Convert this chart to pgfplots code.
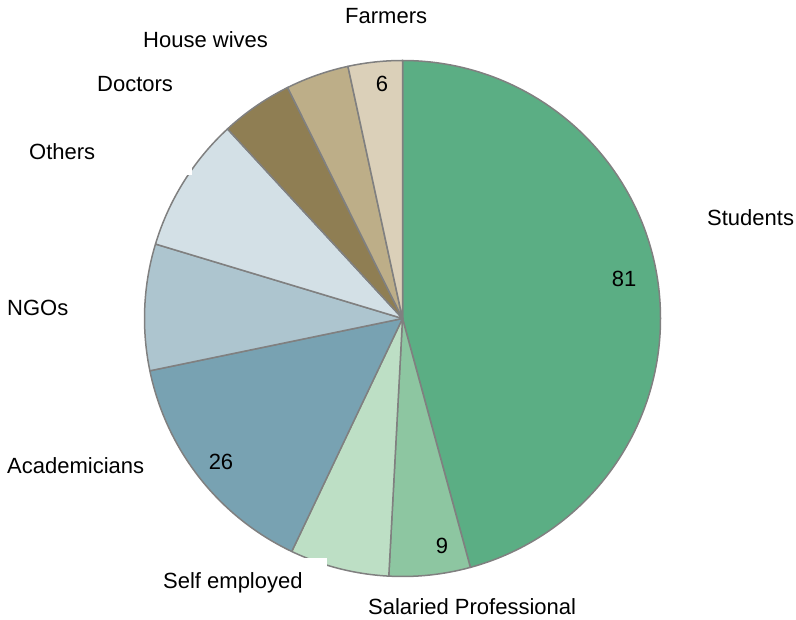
\documentclass[border=0pt]{standalone}
\usepackage{pgfplots}
\usepackage{pgfplotstable}
\usepackage{fontspec}
\pgfplotsset{compat=1.18}
\setmainfont{Liberation Sans}

% slice colours, clockwise from 12 o'clock
\definecolor{slice0}{HTML}{5BAE84}
\definecolor{slice1}{HTML}{8DC6A1}
\definecolor{slice2}{HTML}{BDDFC5}
\definecolor{slice3}{HTML}{78A2B2}
\definecolor{slice4}{HTML}{ADC5CF}
\definecolor{slice5}{HTML}{D3E0E6}
\definecolor{slice6}{HTML}{8F7E53}
\definecolor{slice7}{HTML}{BDAE88}
\definecolor{slice8}{HTML}{DBD0B9}
\definecolor{edgegray}{HTML}{808080}

\pgfplotstableread[col sep=comma]{
label,value
Students,81
Salaried Professional,9
Self employed,11
Academicians,26
NGOs,14
Others,15
Doctors,8
House wives,7
Farmers,6
}\piedata

\newcommand\cx{402.5}
\newcommand\cy{318.5}
\newcommand\R{258}

\tikzset{lbl/.style={font=\fontsize{22}{26}\selectfont, inner sep=0pt}}

\begin{document}
\begin{tikzpicture}
\begin{axis}[
    scale only axis,
    width=796pt, height=620pt,
    xmin=0, xmax=796,
    ymin=0, ymax=620,
    y dir=reverse,
    hide axis,
    clip=false,
]
\path (axis cs:0,0) rectangle (axis cs:796,620);

% total of all slices
\def\total{0}
\pgfplotsforeachungrouped \i in {0,...,8}{%
  \pgfplotstablegetelem{\i}{value}\of\piedata
  \pgfmathsetmacro\total{\total+\pgfplotsretval}%
}

% slices, clockwise from the top
\def\cum{0}
\pgfplotsforeachungrouped \i in {0,...,8}{%
  \pgfplotstablegetelem{\i}{value}\of\piedata
  \let\val\pgfplotsretval
  \pgfmathsetmacro\ta{\cum/\total*360}%
  \pgfmathsetmacro\tb{(\cum+\val)/\total*360}%
  \pgfmathsetmacro\px{\cx+\R*sin(\ta)}%
  \pgfmathsetmacro\py{\cy-\R*cos(\ta)}%
  \pgfmathsetmacro\sa{90-\ta}%
  \pgfmathsetmacro\sb{90-\tb}%
  \edef\slice{\noexpand\filldraw[fill=slice\i, draw=edgegray, line width=1.5pt, line join=round]
    (axis cs:\cx,\cy) -- (axis cs:\px,\py) arc[start angle=\sa, end angle=\sb, radius=\R pt] -- cycle;}%
  \slice
  \pgfmathsetmacro\cum{\cum+\val}%
}

% label backgrounds that cut into the pie
\fill[white] (axis cs:150,128) rectangle (axis cs:192,175);
\fill[white] (axis cs:200,558) rectangle (axis cs:327,605);

% category labels
\node[lbl, anchor=base west] at (axis cs:707,226) {Students};
\node[lbl, anchor=base west] at (axis cs:368,614) {Salaried Professional};
\node[lbl, anchor=base west] at (axis cs:163,588) {Self employed};
\node[lbl, anchor=base west] at (axis cs:7,474) {Academicians};
\node[lbl, anchor=base west] at (axis cs:7,316) {NGOs};
\node[lbl, anchor=base west] at (axis cs:29,160) {Others};
\node[lbl, anchor=base west] at (axis cs:97,92) {Doctors};
\node[lbl, anchor=base west] at (axis cs:143,48) {House wives};
\node[lbl, anchor=base west] at (axis cs:345,24) {Farmers};

% value labels
\node[lbl, anchor=base] at (axis cs:624,287) {81};
\node[lbl, anchor=base] at (axis cs:442,553) {9};
\node[lbl, anchor=base] at (axis cs:221,470) {26};
\node[lbl, anchor=base] at (axis cs:382,92) {6};
\end{axis}
\end{tikzpicture}
\end{document}
